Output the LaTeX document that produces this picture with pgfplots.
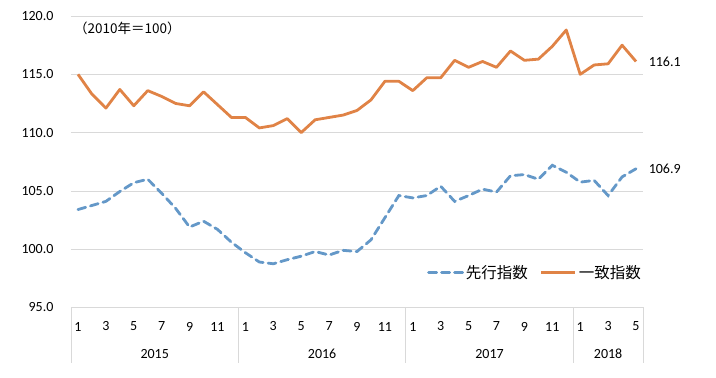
\documentclass[border=0pt]{standalone}
\usepackage{pgfplots}
\pgfplotsset{compat=1.18}
\usepackage{fontspec}
\setmainfont{Carlito}
\newfontfamily\cjk{Noto Sans CJK JP}
\definecolor{orangeL}{RGB}{224,131,70}
\definecolor{blueL}{RGB}{100,152,200}
\definecolor{gridc}{RGB}{217,217,217}
\pgfplotstableread{
i lead coin
0 103.4 115.0
1 103.75 113.3
2 104.1 112.1
3 104.95 113.7
4 105.7 112.3
5 106.0 113.6
6 104.8 113.1
7 103.5 112.5
8 101.9 112.3
9 102.4 113.5
10 101.7 112.4
11 100.6 111.3
12 99.7 111.3
13 98.9 110.4
14 98.75 110.6
15 99.1 111.2
16 99.4 110.0
17 99.8 111.1
18 99.5 111.3
19 99.9 111.5
20 99.8 111.9
21 100.8 112.8
22 102.7 114.4
23 104.6 114.4
24 104.4 113.6
25 104.6 114.7
26 105.4 114.7
27 104.1 116.2
28 104.6 115.6
29 105.15 116.1
30 104.9 115.6
31 106.3 117.0
32 106.4 116.2
33 106.0 116.3
34 107.2 117.4
35 106.6 118.8
36 105.75 115.0
37 105.9 115.8
38 104.6 115.9
39 106.2 117.5
40 106.9 116.1
}\datatable
\begin{document}
\begin{tikzpicture}
\useasboundingbox (0,0) rectangle (716pt,378pt);
\begin{axis}[
  at={(71pt,70.5pt)}, anchor=south west,
  scale only axis, width=572pt, height=291.5pt,
  xmin=-0.5, xmax=40.5, ymin=95, ymax=120,
  clip=false,
  axis line style={draw=none},
  major tick length=0pt,
  ymajorgrids, grid style={gridc, line width=0.8pt},
  ytick={95,100,105,110,115,120},
  yticklabel style={/pgf/number format/fixed, /pgf/number format/fixed zerofill, /pgf/number format/precision=1, /pgf/number format/assume math mode=true, font=\fontsize{14}{16}\selectfont, xshift=-14pt},
  xtick={0,2,4,6,8,10,12,14,16,18,20,22,24,26,28,30,32,34,36,38,40},
  xticklabels={1,3,5,7,9,11,1,3,5,7,9,11,1,3,5,7,9,11,1,3,5},
  xticklabel style={font=\fontsize{14}{16}\selectfont, anchor=center, yshift=-19pt},
  legend columns=2,
  legend style={draw=none, fill=none, at={(1.0,0.12)}, anchor=east,
    font=\cjk\fontsize{15.5}{18}\selectfont, inner sep=0pt,
    /tikz/every even column/.append style={column sep=10pt}},
  legend image code/.code={\draw[#1] (0pt,0pt) -- (34pt,0pt);},
]
\addplot[blueL, line width=2.8pt, dash pattern=on 8pt off 5pt, line cap=round] table[x=i, y=lead] {\datatable}
  node[pos=1, anchor=west, xshift=8pt, text=black, font=\fontsize{14}{16}\selectfont] {106.9};
\addlegendentry{先行指数}
\addplot[orangeL, line width=2.8pt, line join=round] table[x=i, y=coin] {\datatable}
  node[pos=1, anchor=west, xshift=8pt, text=black, font=\fontsize{14}{16}\selectfont] {116.1};
\addlegendentry{一致指数}
\draw[gridc, line width=0.8pt] (axis cs:-0.5,95) -- ([yshift=-55.5pt]axis cs:-0.5,95);
\draw[gridc, line width=0.8pt] (axis cs:11.5,95) -- ([yshift=-55.5pt]axis cs:11.5,95);
\draw[gridc, line width=0.8pt] (axis cs:23.5,95) -- ([yshift=-55.5pt]axis cs:23.5,95);
\draw[gridc, line width=0.8pt] (axis cs:35.5,95) -- ([yshift=-55.5pt]axis cs:35.5,95);
\draw[gridc, line width=0.8pt] (axis cs:40.5,95) -- ([yshift=-55.5pt]axis cs:40.5,95);
\node[font=\fontsize{14}{16}\selectfont] at ([yshift=-46.5pt]axis cs:5.5,95) {2015};
\node[font=\fontsize{14}{16}\selectfont] at ([yshift=-46.5pt]axis cs:17.5,95) {2016};
\node[font=\fontsize{14}{16}\selectfont] at ([yshift=-46.5pt]axis cs:29.5,95) {2017};
\node[font=\fontsize{14}{16}\selectfont] at ([yshift=-46.5pt]axis cs:38,95) {2018};
\node[anchor=west, inner sep=0pt, font=\cjk\fontsize{13.5}{16}\selectfont] at ([xshift=3pt, yshift=-12.3pt]rel axis cs:0,1) {（2010年＝100）};
\end{axis}
\end{tikzpicture}
\end{document}
